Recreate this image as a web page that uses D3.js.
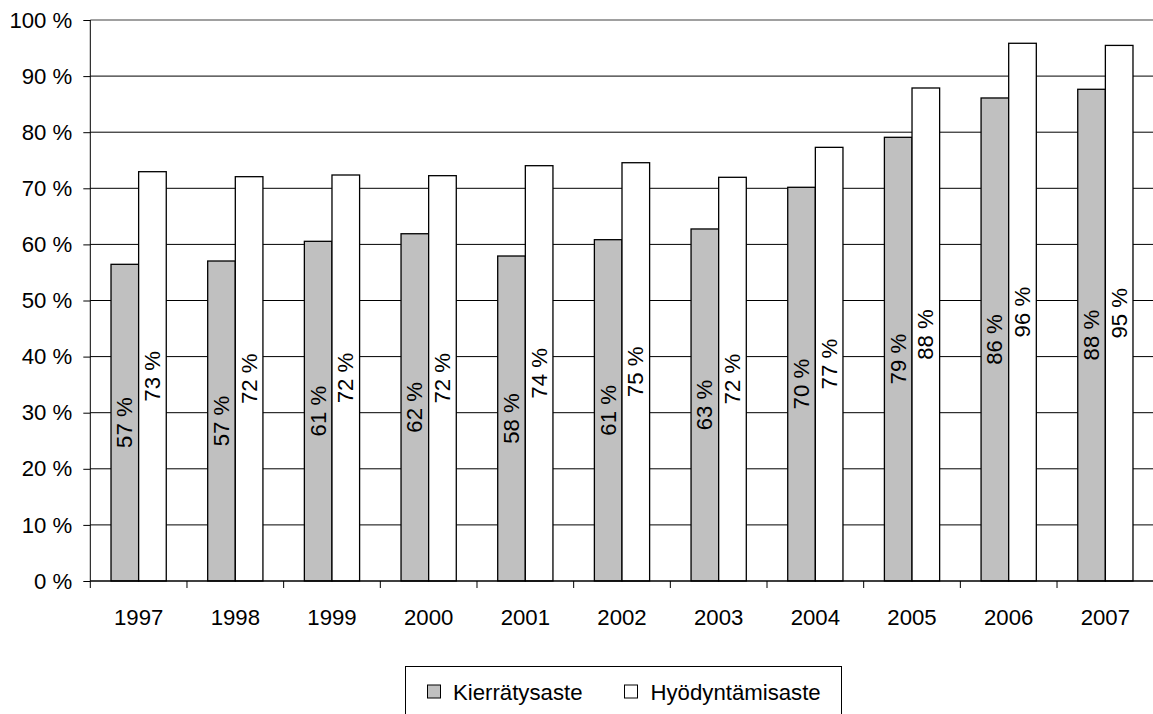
<!DOCTYPE html>
<html>
<head>
<meta charset="utf-8">
<script src="https://cdn.jsdelivr.net/npm/d3@7"></script>
<style>
  body { margin: 0; background: #fff; }
  svg { display: block; }
  text { font-family: "Liberation Sans", Arial, sans-serif; fill: #000; }
</style>
</head>
<body>
<svg id="chart" width="1153" height="714"></svg>
<script>
const years = ["1997","1998","1999","2000","2001","2002","2003","2004","2005","2006","2007"];
const seriesNames = ["Kierrätysaste", "Hyödyntämisaste"];
const kierratysaste = [56.45, 57.04, 60.55, 61.9, 57.93, 60.84, 62.75, 70.18, 79.09, 86.1, 87.65];
const hyodyntamisaste = [72.96, 72.07, 72.37, 72.25, 74.03, 74.56, 71.96, 77.3, 87.88, 95.85, 95.47];
const kierratysLabels = ["57 %","57 %","61 %","62 %","58 %","61 %","63 %","70 %","79 %","86 %","88 %"];
const hyodyntamisLabels = ["73 %","72 %","72 %","72 %","74 %","75 %","72 %","77 %","88 %","96 %","95 %"];
const yTicks = [0,10,20,30,40,50,60,70,80,90,100];
const colors = ["#c0c0c0", "#ffffff"];

(function () {
const svg = d3.select("#chart");
const pLeft = 90.3, pRight = 1153.7, pTop = 20, pBottom = 581;
const fontSize = "22.2px";

const x0 = d3.scaleBand().domain(years).range([pLeft, pRight]).paddingInner(0).paddingOuter(0);
const x1 = d3.scaleBand().domain(seriesNames).range([0, x0.bandwidth()]).paddingInner(0).paddingOuter(0.75);
const y = d3.scaleLinear().domain([0, 100]).range([pBottom, pTop]);

// gridlines
svg.append("g").selectAll("line").data(yTicks.filter(t => t > 0)).join("line")
  .attr("x1", pLeft).attr("x2", pRight)
  .attr("y1", d => y(d)).attr("y2", d => y(d))
  .attr("stroke", d => d === 100 ? "#808080" : "#000")
  .attr("stroke-width", d => d === 100 ? 1.3 : 1);

// y axis
const yAxis = d3.axisLeft(y).tickValues(yTicks).tickSize(7).tickPadding(11).tickFormat(d => d + " %");
const gy = svg.append("g").attr("transform", `translate(${pLeft},0)`).call(yAxis);
gy.selectAll("text").style("font-size", fontSize);
gy.select(".domain").attr("stroke", "#000").attr("d", `M0,${pTop}V${pBottom}`);
gy.selectAll(".tick line").attr("stroke", "#000");

// bars
const data = years.map((yr, i) => ({
  year: yr,
  vals: [
    {s: seriesNames[0], v: kierratysaste[i], label: kierratysLabels[i], c: colors[0]},
    {s: seriesNames[1], v: hyodyntamisaste[i], label: hyodyntamisLabels[i], c: colors[1]}
  ]
}));

const groups = svg.append("g").selectAll("g").data(data).join("g")
  .attr("transform", d => `translate(${x0(d.year)},0)`);

groups.selectAll("rect").data(d => d.vals).join("rect")
  .attr("x", d => x1(d.s))
  .attr("width", x1.bandwidth())
  .attr("y", d => y(d.v))
  .attr("height", d => y(0) - y(d.v))
  .attr("fill", d => d.c)
  .attr("stroke", "#000")
  .attr("stroke-width", 1.3);

groups.selectAll("text").data(d => d.vals).join("text")
  .attr("transform", d => `translate(${x1(d.s) + x1.bandwidth()/2},${(y(d.v) + y(0))/2}) rotate(-90)`)
  .attr("text-anchor", "middle")
  .attr("dominant-baseline", "central")
  .style("font-size", fontSize)
  .text(d => d.label);

// x axis
const xAxis = d3.axisBottom(x0).tickSize(0).tickPadding(28);
const gx = svg.append("g").attr("transform", `translate(0,${pBottom})`).call(xAxis);
gx.selectAll("text").style("font-size", fontSize);
gx.select(".domain").attr("stroke", "#000").attr("stroke-width", 1.3).attr("d", `M${pLeft},0H${pRight}`);
gx.append("g").selectAll("line").data(years).join("line")
  .attr("x1", d => x0(d)).attr("x2", d => x0(d))
  .attr("y1", 0).attr("y2", 7).attr("stroke", "#000");

// legend
const lg = svg.append("g");
lg.append("rect").attr("x", 405.5).attr("y", 666.5).attr("width", 436).attr("height", 60)
  .attr("fill", "#fff").attr("stroke", "#000").attr("stroke-width", 1);
const legendItems = [
  {name: seriesNames[0], c: colors[0], sx: 427.5, tx: 453},
  {name: seriesNames[1], c: colors[1], sx: 624.5, tx: 650.5}
];
legendItems.forEach(it => {
  lg.append("rect").attr("x", it.sx).attr("y", 685).attr("width", 13).attr("height", 13)
    .attr("fill", it.c).attr("stroke", "#000").attr("stroke-width", 1);
  lg.append("text").attr("x", it.tx).attr("y", 692).attr("dominant-baseline", "central")
    .style("font-size", fontSize).text(it.name);
});
})();
</script>
</body>
</html>
